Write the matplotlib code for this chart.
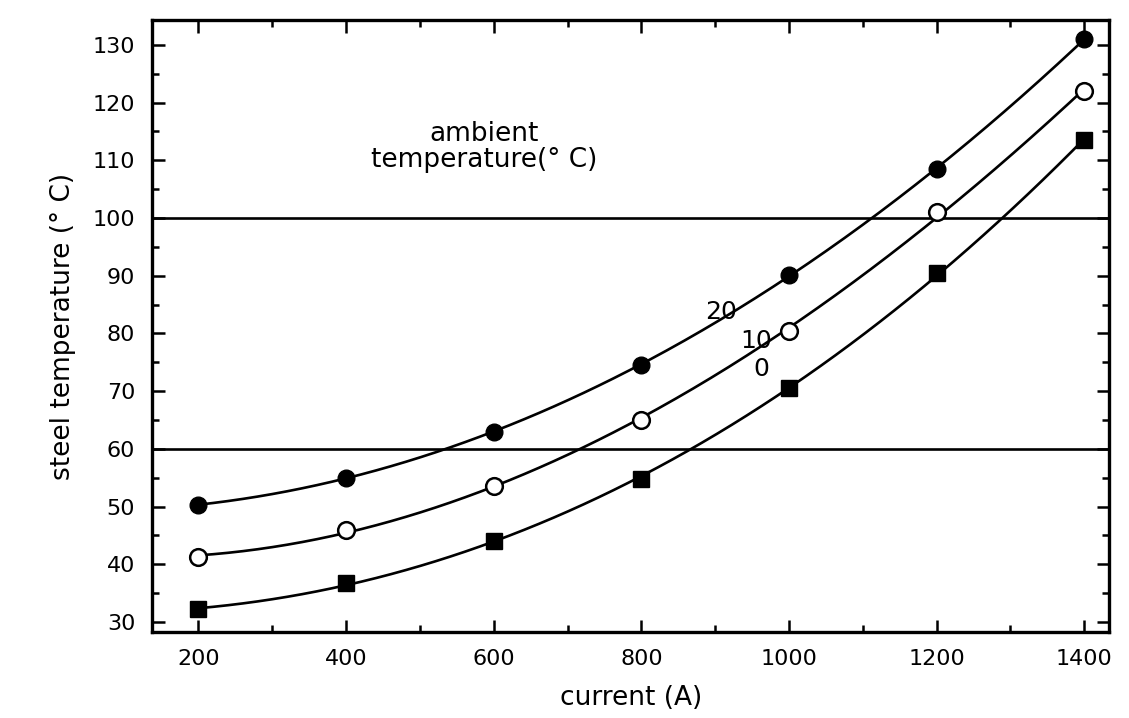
import matplotlib
matplotlib.use("Agg")
import matplotlib.pyplot as plt
from matplotlib.ticker import MultipleLocator
import numpy as np

plt.rcParams['font.family'] = ['DejaVu Sans']

# current (A) and steel temperature (°C) for each ambient temperature
current = [200, 400, 600, 800, 1000, 1200, 1400]
temp_amb20 = [50.3, 55.0, 63.0, 74.5, 90.2, 108.5, 131.0]
temp_amb10 = [41.3, 46.0, 53.5, 65.0, 80.5, 101.0, 122.0]
temp_amb0 = [32.2, 36.8, 44.0, 54.8, 70.5, 90.5, 113.5]
limit_lines = [100, 60]

fig = plt.figure(figsize=(11.29, 7.18), dpi=100)
ax = fig.add_axes([0.1346, 0.12, 0.848, 0.852])

xs = np.linspace(current[0], current[-1], 300)
series = [
    (temp_amb20, dict(marker='o', markerfacecolor='black')),
    (temp_amb10, dict(marker='o', markerfacecolor='white', markeredgewidth=1.8)),
    (temp_amb0, dict(marker='s', markerfacecolor='black')),
]
for vals, mstyle in series:
    # smooth curve through the measured points
    coef = np.polyfit(current, vals, 3)
    ax.plot(xs, np.polyval(coef, xs), color='black', lw=1.9, zorder=2)
    ax.plot(current, vals, linestyle='none', color='black',
            markeredgecolor='black', markersize=12, zorder=3, **mstyle)

for yv in limit_lines:
    ax.axhline(yv, color='black', lw=1.9, zorder=1)

ax.text(908, 83.7, '20', fontsize=18, ha='center', va='center')
ax.text(955, 78.7, '10', fontsize=18, ha='center', va='center')
ax.text(962, 73.8, '0', fontsize=18, ha='center', va='center')
ax.text(587, 112.3, 'ambient\ntemperature(° C)', fontsize=19,
        ha='center', va='center', linespacing=1.0)

ax.set_xlim(137, 1434)
ax.set_ylim(28.3, 134.3)
ax.xaxis.set_major_locator(MultipleLocator(200))
ax.xaxis.set_minor_locator(MultipleLocator(100))
ax.yaxis.set_major_locator(MultipleLocator(10))
ax.yaxis.set_minor_locator(MultipleLocator(5))
ax.set_yticks(range(30, 131, 10))
ax.tick_params(which='both', direction='in', top=True, right=True,
               labelsize=16, width=1.8)
ax.tick_params(which='major', length=9, pad=12)
ax.tick_params(which='minor', length=5)
for s in ax.spines.values():
    s.set_linewidth(2.4)

ax.set_xlabel('current (A)', fontsize=19, labelpad=12)
ax.set_ylabel('steel temperature (° C)', fontsize=19, labelpad=12)

fig.savefig('out.png', dpi=100)
